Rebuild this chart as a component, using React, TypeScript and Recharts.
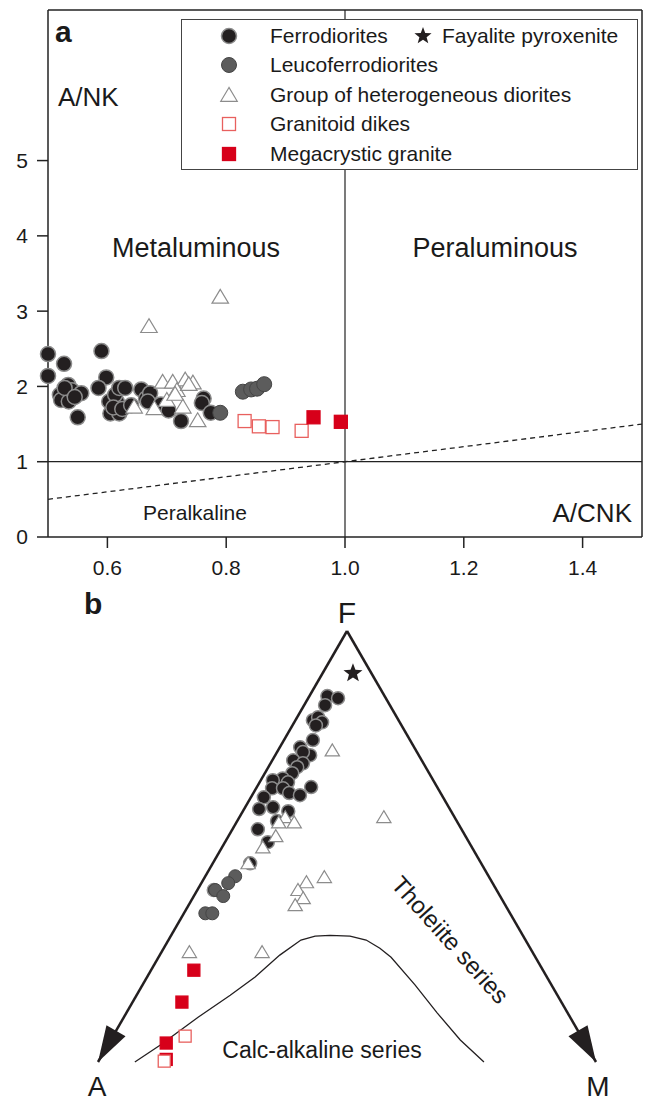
import React from 'react';
import { ScatterChart, Scatter, XAxis, YAxis, ReferenceLine } from 'recharts';

const FONT = '"Liberation Sans", Arial, Helvetica, sans-serif';
const INK = '#231f20';
const RED = '#d7001a';

// panel a: [A/CNK, A/NK]
const ferroANK = [
  [0.5, 2.43], [0.5, 2.14], [0.527, 2.3], [0.52, 1.89], [0.534, 1.84], [0.522, 1.82],
  [0.535, 1.8], [0.534, 2.02], [0.54, 1.95], [0.556, 1.91], [0.55, 1.59], [0.528, 1.98],
  [0.545, 1.86], [0.59, 2.47], [0.598, 2.12], [0.585, 1.98], [0.603, 1.8], [0.605, 1.64],
  [0.62, 1.64], [0.616, 1.8], [0.613, 1.89], [0.62, 1.98], [0.63, 1.98], [0.61, 1.72],
  [0.625, 1.7], [0.657, 1.96], [0.665, 1.84], [0.672, 1.91], [0.668, 1.8], [0.69, 1.76],
  [0.703, 1.68], [0.724, 1.54], [0.762, 1.84], [0.759, 1.78], [0.774, 1.65], [0.64, 1.75],
];
const leucoANK = [[0.79, 1.65], [0.828, 1.93], [0.842, 1.96], [0.852, 1.97], [0.864, 2.03]];
const dioriteANK = [
  [0.67, 2.8], [0.79, 3.19], [0.693, 2.06], [0.71, 2.06], [0.731, 2.09], [0.744, 2.05],
  [0.717, 1.95], [0.645, 1.73], [0.679, 1.71], [0.7, 1.82], [0.727, 1.73], [0.752, 1.55],
  [0.714, 1.9], [0.737, 2.03],
];
const dikeANK = [[0.831, 1.54], [0.855, 1.47], [0.878, 1.46], [0.927, 1.41]];
const graniteANK = [[0.947, 1.59], [0.993, 1.53]];

const xTicks = [0.6, 0.8, 1.0, 1.2, 1.4];
const yTicks = [0, 1, 2, 3, 4, 5];

// panel b: [A, F, M]
const fayaliteAFM = [[3.7, 90.2, 6.1]];
const ferroAFM = [
  [11.5, 84.9, 3.6], [9.6, 84.4, 6.0], [13.0, 82.8, 4.2], [17.2, 79.3, 3.5], [15.8, 80.0, 4.2],
  [15.6, 78.8, 5.6], [17.2, 78.1, 4.7], [19.5, 74.7, 5.8], [22.9, 73.0, 4.1], [21.8, 71.2, 7.0],
  [22.9, 71.9, 5.2], [25.8, 70.0, 4.2], [24.2, 69.3, 6.5], [25.8, 68.4, 5.8], [27.5, 67.0, 5.5],
  [30.0, 65.8, 4.2], [32.2, 65.4, 2.4], [29.4, 64.9, 5.7], [33.3, 63.5, 3.2], [31.1, 63.5, 5.4],
  [30.4, 62.4, 7.2], [28.5, 61.9, 9.6], [25.3, 63.8, 10.9], [36.0, 61.4, 2.6], [35.3, 59.1, 5.6],
  [38.3, 58.7, 3.0], [32.7, 58.2, 9.1], [36.1, 55.9, 8.0], [40.9, 54.0, 5.1], [40.4, 51.0, 8.6],
  [46.4, 46.1, 7.5], [56.8, 39.9, 3.3],
];
const leucoAFM = [
  [50.9, 43.1, 6.0], [53.1, 41.5, 5.4], [56.5, 39.9, 3.6], [55.6, 38.5, 5.9], [61.2, 34.5, 4.3],
  [59.8, 34.5, 5.7],
];
const dioriteAFM = [
  [16.8, 72.3, 10.9], [14.2, 56.8, 29.0], [34.0, 56.8, 9.2], [35.9, 55.6, 8.5], [32.8, 55.6, 11.6],
  [38.1, 52.4, 9.5], [42.0, 49.8, 8.2], [46.8, 46.1, 7.1], [33.1, 42.9, 24.0], [37.3, 41.7, 21.0],
  [39.9, 39.9, 20.2], [39.8, 38.0, 22.2], [42.2, 36.4, 21.4], [68.9, 25.5, 5.6], [54.3, 25.5, 20.2],
];
const graniteAFM = [[70.1, 21.3, 8.6], [76.2, 13.9, 9.9], [84.1, 4.4, 11.5], [86.0, 0.6, 13.4]];
const dikeAFM = [[79.5, 6.0, 14.5], [86.6, 0.2, 13.2]];
// Irvine & Baragar boundary
const boundaryAFM = [
  [92.6, 0, 7.4], [85.6, 3.9, 10.5], [74.7, 10.4, 14.9], [65.7, 15.5, 18.8], [58.6, 19.7, 21.7],
  [51.1, 24.8, 24.1], [45.1, 28.3, 26.6], [41.8, 29.2, 29.0], [38.7, 29.4, 31.9], [34.8, 29.2, 36.0],
  [32.0, 28.3, 39.7], [30.2, 26.4, 43.4], [29.0, 24.3, 46.7], [27.4, 17.9, 54.7], [26.2, 11.4, 62.4],
  [24.7, 5.1, 70.2], [22.5, 0, 77.5],
];

const H = Math.sqrt(3) / 2;
const pairs = (d: number[][]) => d.map(([x, y]) => ({ x, y }));
const ternary = (d: number[][]) => d.map(([a, f, m]) => ({ x: m + f / 2, y: f * H, a }));

const darkDot = (r: number) => (p: any) => (
  <circle cx={p.cx} cy={p.cy} r={r} fill={INK} stroke="#8c8c8c" strokeWidth={1.5} />
);
const greyDot = (r: number) => (p: any) => (
  <circle cx={p.cx} cy={p.cy} r={r} fill="#5c5c5c" stroke="#454545" strokeWidth={1} />
);
const triangle = (s: number) => (p: any) => (
  <polygon
    points={`${p.cx},${p.cy - s * 0.5} ${p.cx - s * 0.55},${p.cy + s * 0.42} ${p.cx + s * 0.55},${p.cy + s * 0.42}`}
    fill="#fff"
    stroke="#8c8c8c"
    strokeWidth={1.2}
  />
);
const square = (s: number, filled: boolean) => (p: any) => (
  <rect
    x={p.cx - s / 2}
    y={p.cy - s / 2}
    width={s}
    height={s}
    fill={filled ? RED : '#fff'}
    stroke={filled ? RED : '#e8605e'}
    strokeWidth={1.3}
  />
);
const starPath = (cx: number, cy: number, R: number) => {
  const pts: string[] = [];
  for (let i = 0; i < 10; i++) {
    const r = i % 2 === 0 ? R : R * 0.42;
    const ang = -Math.PI / 2 + (i * Math.PI) / 5;
    pts.push(`${cx + r * Math.cos(ang)},${cy + r * Math.sin(ang)}`);
  }
  return pts.join(' ');
};
const star = (R: number) => (p: any) => <polygon points={starPath(p.cx, p.cy, R)} fill={INK} />;

// arrowhead pointing along the triangle side (dir = +1 toward M, -1 toward A)
const arrowHead = (p: any) => {
  const dir = p.payload.dir;
  const ux = 0.5 * dir;
  const uy = H;
  const L = 36;
  const W = 11;
  const bx = p.cx - ux * L;
  const by = p.cy - uy * L;
  return (
    <polygon
      points={`${p.cx},${p.cy} ${bx - uy * W},${by + ux * W} ${bx + uy * W},${by - ux * W}`}
      fill={INK}
    />
  );
};
const arrowTips = [{ x: 0, y: 0, dir: -1 }, { x: 100, y: 0, dir: 1 }];

const txt = { fontFamily: FONT, fill: '#1a1a1a' } as const;

const legendRows = [
  { label: 'Ferrodiorites', kind: 'ferro' },
  { label: 'Leucoferrodiorites', kind: 'leuco' },
  { label: 'Group of heterogeneous diorites', kind: 'tri' },
  { label: 'Granitoid dikes', kind: 'dike' },
  { label: 'Megacrystic granite', kind: 'granite' },
];

function LegendMarker({ kind }: { kind: string }) {
  const p = { cx: 11, cy: 11 };
  let el: any = null;
  if (kind === 'ferro') el = darkDot(7.5)(p);
  if (kind === 'leuco') el = greyDot(7.5)(p);
  if (kind === 'tri') el = triangle(15)(p);
  if (kind === 'dike') el = square(13, false)(p);
  if (kind === 'granite') el = square(13, true)(p);
  if (kind === 'star') el = star(9)(p);
  return (
    <svg width={22} height={22} style={{ display: 'block' }}>
      {el}
    </svg>
  );
}

function LegendBox() {
  return (
    <div
      style={{
        position: 'absolute',
        left: 181,
        top: 19,
        width: 457,
        height: 151,
        boxSizing: 'border-box',
        border: '1.5px solid #444',
        background: '#fff',
        fontFamily: FONT,
        fontSize: 21,
        color: '#1a1a1a',
        paddingTop: 1,
      }}
    >
      {legendRows.map((r, i) => (
        <div key={r.label} style={{ position: 'relative', height: 29.5, display: 'flex', alignItems: 'center' }}>
          <div style={{ position: 'absolute', left: 36 }}>
            <LegendMarker kind={r.kind} />
          </div>
          <span style={{ position: 'absolute', left: 88 }}>{r.label}</span>
          {i === 0 && (
            <>
              <div style={{ position: 'absolute', left: 230 }}>
                <LegendMarker kind="star" />
              </div>
              <span style={{ position: 'absolute', left: 260 }}>Fayalite pyroxenite</span>
            </>
          )}
        </div>
      ))}
    </div>
  );
}

export default function App() {
  return (
    <div style={{ position: 'absolute', left: 0, top: 0, width: 645, height: 1104, background: '#fff' }}>
      <div style={{ position: 'absolute', left: 0, top: 0 }}>
        <ScatterChart width={645} height={590} margin={{ top: 10, right: 3, left: 0, bottom: 0 }}>
          <XAxis
            type="number"
            dataKey="x"
            domain={[0.5, 1.5]}
            ticks={xTicks}
            tickFormatter={(v: number) => v.toFixed(1)}
            height={53}
            tickSize={11}
            tickMargin={12}
            stroke="#222"
            strokeWidth={1.5}
            tick={{ fill: '#1a1a1a', fontSize: 21, fontFamily: FONT }}
          />
          <YAxis
            type="number"
            dataKey="y"
            domain={[0, 7]}
            ticks={yTicks}
            width={48}
            tickSize={11}
            tickMargin={9}
            stroke="#222"
            strokeWidth={1.5}
            tick={{ fill: '#1a1a1a', fontSize: 21, fontFamily: FONT }}
          />
          <ReferenceLine y={7} stroke="#222" strokeWidth={1.5} />
          <ReferenceLine x={1.5} stroke="#222" strokeWidth={1.5} />
          <ReferenceLine x={1} stroke="#222" strokeWidth={1.2} />
          <ReferenceLine y={1} stroke="#222" strokeWidth={1.2} />
          <ReferenceLine
            segment={[{ x: 0.5, y: 0.5 }, { x: 1.5, y: 1.5 }]}
            stroke="#222"
            strokeWidth={1.3}
            strokeDasharray="5 4"
          />
          <Scatter data={pairs(ferroANK)} shape={darkDot(7.5)} isAnimationActive={false} />
          <Scatter data={pairs(leucoANK)} shape={greyDot(7.5)} isAnimationActive={false} />
          <Scatter data={pairs(dioriteANK)} shape={triangle(15)} isAnimationActive={false} />
          <Scatter data={pairs(dikeANK)} shape={square(13, false)} isAnimationActive={false} />
          <Scatter data={pairs(graniteANK)} shape={square(13, true)} isAnimationActive={false} />
          <text x={55} y={42} {...txt} fontSize={30} fontWeight="bold">a</text>
          <text x={58} y={106} {...txt} fontSize={26}>A/NK</text>
          <text x={196} y={257} {...txt} fontSize={27} textAnchor="middle">Metaluminous</text>
          <text x={495} y={257} {...txt} fontSize={27} textAnchor="middle">Peraluminous</text>
          <text x={195} y={520} {...txt} fontSize={21} textAnchor="middle">Peralkaline</text>
          <text x={632} y={522} {...txt} fontSize={26} textAnchor="end">A/CNK</text>
        </ScatterChart>
        <LegendBox />
      </div>

      <div style={{ position: 'absolute', left: 0, top: 560 }}>
        <ScatterChart width={645} height={544} margin={{ top: 71, right: 49, left: 98, bottom: 42 }}>
          <XAxis type="number" dataKey="x" domain={[0, 100]} hide />
          <YAxis type="number" dataKey="y" domain={[0, 100 * H]} hide />
          <ReferenceLine
            segment={[{ x: 50, y: 100 * H }, { x: 0, y: 0 }]}
            stroke={INK}
            strokeWidth={2.5}
          />
          <ReferenceLine
            segment={[{ x: 50, y: 100 * H }, { x: 100, y: 0 }]}
            stroke={INK}
            strokeWidth={2.5}
          />
          <Scatter data={arrowTips} shape={arrowHead} isAnimationActive={false} />
          <Scatter
            data={ternary(boundaryAFM)}
            line={{ stroke: INK, strokeWidth: 1.3 }}
            shape={() => <g />}
            isAnimationActive={false}
          />
          <Scatter data={ternary(ferroAFM)} shape={darkDot(6.5)} isAnimationActive={false} />
          <Scatter data={ternary(leucoAFM)} shape={greyDot(6.5)} isAnimationActive={false} />
          <Scatter data={ternary(dioriteAFM)} shape={triangle(13)} isAnimationActive={false} />
          <Scatter data={ternary(graniteAFM)} shape={square(12, true)} isAnimationActive={false} />
          <Scatter data={ternary(dikeAFM)} shape={square(12, false)} isAnimationActive={false} />
          <Scatter data={ternary(fayaliteAFM)} shape={star(10)} isAnimationActive={false} />
          <text x={84} y={54} {...txt} fontSize={30} fontWeight="bold">b</text>
          <text x={347} y={63} {...txt} fontSize={30} textAnchor="middle">F</text>
          <text x={97} y={536} {...txt} fontSize={28} textAnchor="middle">A</text>
          <text x={598} y={536} {...txt} fontSize={28} textAnchor="middle">M</text>
          <text x={322} y={498} {...txt} fontSize={23} textAnchor="middle">Calc-alkaline series</text>
          <text
            x={450}
            y={388}
            {...txt}
            fontSize={24}
            textAnchor="middle"
            transform="rotate(48 450 380)"
          >
            Tholeiite series
          </text>
        </ScatterChart>
      </div>
    </div>
  );
}
